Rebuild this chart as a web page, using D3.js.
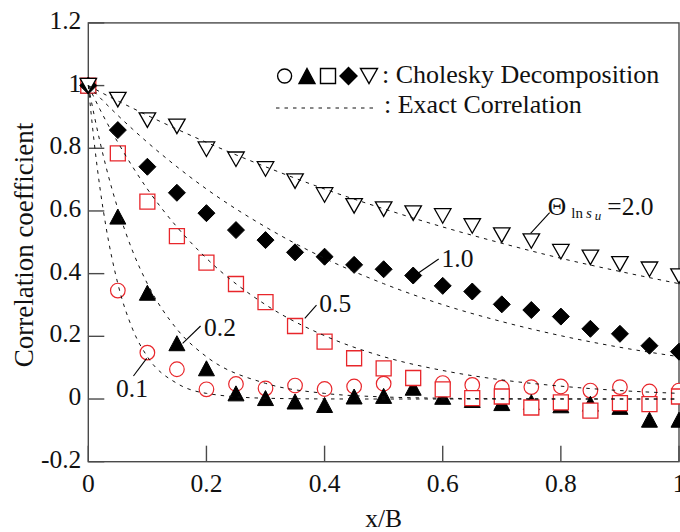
<!DOCTYPE html>
<html>
<head>
<meta charset="utf-8">
<script src="https://cdn.jsdelivr.net/npm/d3@7"></script>
<style>
  html, body { margin: 0; padding: 0; background: #fff; }
  svg { display: block; font-family: "Liberation Serif", "Times New Roman", serif; }
</style>
</head>
<body>
<svg id="chart" width="680" height="532"></svg>
<script>
// Sampling positions along the strip (x/B)
const xPositions = [0, 0.05, 0.1, 0.15, 0.2, 0.25, 0.3, 0.35, 0.4, 0.45, 0.5,
                    0.55, 0.6, 0.65, 0.7, 0.75, 0.8, 0.85, 0.9, 0.95, 1.0];

// Cholesky decomposition results, one list per scale of fluctuation
const chol01 = [1.0, 0.346, 0.148, 0.095, 0.031, 0.048, 0.034, 0.043, 0.032, 0.040, 0.049,
                0.066, 0.051, 0.045, 0.036, 0.038, 0.040, 0.027, 0.038, 0.024, 0.027];
const chol02 = [1.0, 0.582, 0.339, 0.178, 0.098, 0.018, 0.003, -0.008, -0.019, 0.008, 0.010,
                0.036, 0.007, -0.003, -0.013, -0.010, -0.020, -0.015, -0.025, -0.066, -0.066];
const chol05 = [1.0, 0.784, 0.630, 0.520, 0.435, 0.367, 0.309, 0.233, 0.183, 0.130, 0.098,
                0.067, 0.031, 0.003, 0.008, -0.027, -0.011, -0.037, -0.013, -0.016, 0.008];
const chol10 = [1.0, 0.858, 0.741, 0.658, 0.593, 0.539, 0.507, 0.468, 0.454, 0.428, 0.414,
                0.394, 0.361, 0.343, 0.302, 0.284, 0.263, 0.224, 0.208, 0.170, 0.151];
const chol20 = [1.0, 0.955, 0.890, 0.870, 0.797, 0.765, 0.734, 0.695, 0.651, 0.616, 0.606,
                0.593, 0.584, 0.552, 0.523, 0.504, 0.470, 0.452, 0.431, 0.414, 0.392];

// Exact correlation curves
const exactX   = [0, 0.01, 0.02, 0.03, 0.05, 0.075, 0.1, 0.15, 0.2, 0.3, 0.4, 0.5, 0.6, 0.7, 0.8, 0.9, 1.0];
const exact01  = [1, 0.819, 0.670, 0.549, 0.368, 0.223, 0.135, 0.050, 0.018, 0.0025, 0.0003, 0, 0, 0, 0, 0, 0];
const exact02  = [1, 0.905, 0.819, 0.741, 0.607, 0.472, 0.368, 0.223, 0.135, 0.050, 0.018, 0.0067, 0.0025, 0.0009, 0.0003, 0.0001, 0];
const exact05  = [1, 0.961, 0.923, 0.887, 0.819, 0.741, 0.670, 0.549, 0.449, 0.301, 0.202, 0.135, 0.091, 0.061, 0.041, 0.027, 0.018];
const exact10  = [1, 0.980, 0.961, 0.942, 0.905, 0.861, 0.819, 0.741, 0.670, 0.549, 0.449, 0.368, 0.301, 0.247, 0.202, 0.165, 0.135];
const exact20  = [1, 0.990, 0.980, 0.970, 0.951, 0.928, 0.905, 0.861, 0.819, 0.741, 0.670, 0.607, 0.549, 0.497, 0.449, 0.407, 0.368];

// Axis ticks
const xTicks = [0, 0.2, 0.4, 0.6, 0.8, 1];
const xTickLabels = ["0", "0.2", "0.4", "0.6", "0.8", "1"];
const yTicks = [-0.2, 0, 0.2, 0.4, 0.6, 0.8, 1.0, 1.2];
const yTickLabels = ["-0.2", "0", "0.2", "0.4", "0.6", "0.8", "1", "1.2"];

// Curve labels: text anchor and leader line, in data units
const curveLabels = [
  { text: "0.1", tx: 0.047, ty: 0.006, x1: 0.0764, y1: 0.0734, x2: 0.0988, y2: 0.1299 },
  { text: "0.2", tx: 0.196, ty: 0.201, x1: 0.1901, y1: 0.2329, x2: 0.1597, y2: 0.1777 },
  { text: "0.5", tx: 0.391, ty: 0.278, x1: 0.3863, y1: 0.2999, x2: 0.3665, y2: 0.2575 },
  { text: "1.0", tx: 0.598, ty: 0.421, x1: 0.5932, y1: 0.4467, x2: 0.5582, y2: 0.4011 }
];
const thetaLabel = { tx: 0.778, ty: 0.587, x1: 0.781, y1: 0.5944, x2: 0.7488, y2: 0.5287, value: "=2.0" };

const RED = "#e8262b";
const FS = 25.5;

const svg = d3.select("#chart");
const x = d3.scaleLinear().domain([0, 1]).range([88.3, 679]);
const y = d3.scaleLinear().domain([-0.2, 1.2]).range([461.7, 22.9]);

// Frame
const frameColor = "#4a4a4a";
svg.append("rect")
  .attr("x", x(0)).attr("y", y(1.2))
  .attr("width", x(1) - x(0)).attr("height", y(-0.2) - y(1.2))
  .attr("fill", "none").attr("stroke", frameColor).attr("stroke-width", 1.4);

// Inward ticks
const tickLen = 16;
svg.append("g").selectAll("line").data(yTicks).join("line")
  .attr("x1", x(0)).attr("x2", x(0) + tickLen)
  .attr("y1", d => y(d)).attr("y2", d => y(d))
  .attr("stroke", frameColor).attr("stroke-width", 1.4);
svg.append("g").selectAll("line").data(xTicks).join("line")
  .attr("x1", d => x(d)).attr("x2", d => x(d))
  .attr("y1", y(-0.2)).attr("y2", y(-0.2) - tickLen)
  .attr("stroke", frameColor).attr("stroke-width", 1.4);

// Tick labels
svg.append("g").selectAll("text").data(yTicks).join("text")
  .attr("x", x(0) - 7).attr("y", d => y(d) + 6)
  .attr("text-anchor", "end").attr("font-size", FS).attr("fill", "#111")
  .text((d, i) => yTickLabels[i]);
svg.append("g").selectAll("text").data(xTicks).join("text")
  .attr("x", d => x(d)).attr("y", 491.7)
  .attr("text-anchor", "middle").attr("font-size", FS).attr("fill", "#111")
  .text((d, i) => xTickLabels[i]);

// Axis titles
svg.append("text")
  .attr("transform", "translate(33,245) rotate(-90)")
  .attr("text-anchor", "middle").attr("font-size", 27).attr("fill", "#111")
  .text("Correlation coefficient");
svg.append("text")
  .attr("x", (x(0) + x(1)) / 2).attr("y", 527)
  .attr("text-anchor", "middle").attr("font-size", FS).attr("fill", "#111")
  .text("x/B");

// Marker shapes centred on their bounding box
const shapes = {
  circle: r => `M${-r},0A${r},${r} 0 1,0 ${r},0A${r},${r} 0 1,0 ${-r},0Z`,
  square: s => `M${-s/2},${-s/2}H${s/2}V${s/2}H${-s/2}Z`,
  triUp: (w, h) => `M0,${-h/2}L${w/2},${h/2}L${-w/2},${h/2}Z`,
  triDown: (w, h) => `M${-w/2},${-h/2}L${w/2},${-h/2}L0,${h/2}Z`,
  diamond: s => `M0,${-s/2}L${s/2},0L0,${s/2}L${-s/2},0Z`
};

const series = [
  { vals: chol01, path: shapes.circle(7.3), fill: "#fff", stroke: RED, sw: 1.2 },
  { vals: chol02, path: shapes.triUp(16, 15), fill: "#000", stroke: "#000", sw: 1 },
  { vals: chol05, path: shapes.square(15), fill: "#fff", stroke: RED, sw: 1.3 },
  { vals: chol10, path: shapes.diamond(17), fill: "#000", stroke: "#000", sw: 1 },
  { vals: chol20, path: shapes.triDown(16.5, 14.5), fill: "#fff", stroke: "#000", sw: 1.3 }
];

const markers = svg.append("g");
series.forEach(s => {
  markers.append("g").selectAll("path").data(s.vals).join("path")
    .attr("transform", (d, i) => `translate(${x(xPositions[i])},${y(d)})`)
    .attr("d", s.path)
    .attr("fill", s.fill).attr("stroke", s.stroke).attr("stroke-width", s.sw);
});

// Exact correlation (dashed)
const line = d3.line()
  .x((d, i) => x(exactX[i]))
  .y(d => y(d))
  .curve(d3.curveMonotoneX);
svg.append("g").selectAll("path").data([exact01, exact02, exact05, exact10, exact20]).join("path")
  .attr("d", line)
  .attr("fill", "none").attr("stroke", "#111").attr("stroke-width", 1)
  .attr("stroke-dasharray", "3.5,5");

// Curve labels with leader lines
const ann = svg.append("g");
curveLabels.forEach(c => {
  ann.append("line")
    .attr("x1", x(c.x1)).attr("y1", y(c.y1)).attr("x2", x(c.x2)).attr("y2", y(c.y2))
    .attr("stroke", "#000").attr("stroke-width", 1.1);
  ann.append("text").attr("x", x(c.tx)).attr("y", y(c.ty))
    .attr("font-size", FS).attr("fill", "#111").text(c.text);
});
ann.append("line")
  .attr("x1", x(thetaLabel.x1)).attr("y1", y(thetaLabel.y1))
  .attr("x2", x(thetaLabel.x2)).attr("y2", y(thetaLabel.y2))
  .attr("stroke", "#000").attr("stroke-width", 1.1);
const th = ann.append("text").attr("x", x(thetaLabel.tx)).attr("y", y(thetaLabel.ty))
  .attr("font-size", FS).attr("fill", "#111");
th.append("tspan").text("Θ");
th.append("tspan").attr("dx", 5).attr("dy", 3).attr("font-size", 15).text("ln");
th.append("tspan").attr("dx", 3).attr("font-size", 15).attr("font-style", "italic").text("s");
th.append("tspan").attr("dx", 3).attr("dy", 2).attr("font-size", 13).attr("font-style", "italic").text("u");
th.append("tspan").attr("dx", 6).attr("dy", -5).text(thetaLabel.value);

// Legend
const legend = svg.append("g");
const legendSymbols = [
  { cx: 284.6, path: shapes.circle(7), fill: "#fff" },
  { cx: 307, path: shapes.triUp(16, 15), fill: "#000" },
  { cx: 328, path: shapes.square(15), fill: "#fff" },
  { cx: 348.5, path: shapes.diamond(17), fill: "#000" },
  { cx: 369, path: shapes.triDown(17, 15), fill: "#fff" }
];
legend.selectAll("path.sym").data(legendSymbols).join("path")
  .attr("class", "sym")
  .attr("transform", d => `translate(${d.cx},76)`)
  .attr("d", d => d.path)
  .attr("fill", d => d.fill).attr("stroke", "#000").attr("stroke-width", 1.4);
legend.append("text").attr("x", 382).attr("y", 82.7)
  .attr("font-size", 26).attr("fill", "#111").text(": Cholesky Decomposition");
legend.append("line")
  .attr("x1", 276).attr("x2", 374).attr("y1", 108).attr("y2", 108)
  .attr("stroke", "#111").attr("stroke-width", 1).attr("stroke-dasharray", "3.5,5");
legend.append("text").attr("x", 384).attr("y", 113.3)
  .attr("font-size", 26).attr("fill", "#111").text(": Exact Correlation");
</script>
</body>
</html>
